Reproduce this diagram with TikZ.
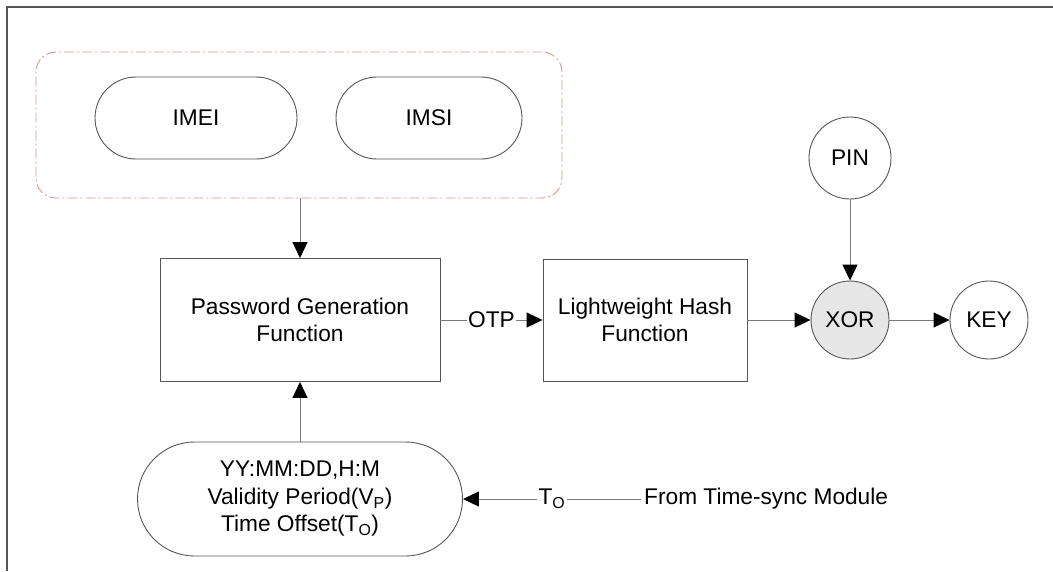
\documentclass[tikz,border=0pt]{standalone}
\usepackage{fontspec}
\setmainfont{Liberation Sans}
\usetikzlibrary{arrows.meta}
\definecolor{edgegray}{HTML}{555555}
\definecolor{linegray}{HTML}{7A7A7A}
\definecolor{grpred}{HTML}{D9968C}
\definecolor{xorfill}{HTML}{E6E6E6}
\begin{document}
\begin{tikzpicture}[x=1pt,y=-1pt,
  font=\fontsize{22.7}{27.5}\selectfont,
  frameline/.style={draw=edgegray,line width=1.4pt},
  boxnode/.style={draw=edgegray,line width=0.9pt,align=center,inner sep=0pt},
  pill/.style={boxnode,rounded corners=41pt},
  circ/.style={draw=edgegray,line width=0.9pt,circle,inner sep=0pt},
  grp/.style={draw=grpred,line width=0.9pt,rounded corners=20pt,
    dash pattern=on 10pt off 3pt on 2pt off 3pt},
  arr/.style={draw=linegray,line width=0.9pt,-{Triangle[length=16pt,width=15pt,fill=black,color=black]}},
  lbl/.style={fill=white,inner sep=1.5pt}
]
\useasboundingbox (0,0) rectangle (1053,571);
\draw[frameline] (1053,7) -- (7,7) -- (7,571);

\node[grp,minimum width=526pt,minimum height=146pt] (grp) at (299,125) {};
\node[pill,minimum width=202pt,minimum height=82pt] (imei) at (196,118) {IMEI};
\node[pill,minimum width=186pt,minimum height=82pt] (imsi) at (429,118) {IMSI};

\node[boxnode,minimum width=280pt,minimum height=123pt] (pw) at (300,320) {Password Generation\\Function};
\node[boxnode,minimum width=204pt,minimum height=122pt] (hash) at (645,320) {Lightweight Hash\\Function};

\node[circ,minimum size=82pt] (pin) at (850,158) {PIN};
\node[circ,fill=xorfill,minimum size=78pt] (xor) at (850,320) {XOR};
\node[circ,minimum size=78pt] (key) at (989,320) {KEY};

\node[boxnode,rounded corners=57pt,minimum width=325pt,minimum height=114pt] (time) at (300,499)
  {YY:MM:DD,H:M\\Validity Period(V\textsubscript{P})\\Time Offset(T\textsubscript{O})};

\node[anchor=west,inner sep=3pt] (src) at (641,499) {From Time-sync Module};

\draw[arr] (pw.north |- grp.south) -- (pw.north);
\draw[arr] (pw.east) -- node[lbl] {OTP} (hash.west);
\draw[arr] (hash.east) -- (xor.west);
\draw[arr] (pin.south) -- (xor.north);
\draw[arr] (xor.east) -- (key.west);
\draw[arr] (time.north) -- (pw.south);
\draw[arr] (src.west) -- node[lbl] {T\textsubscript{O}} (time.east);
\end{tikzpicture}
\end{document}
